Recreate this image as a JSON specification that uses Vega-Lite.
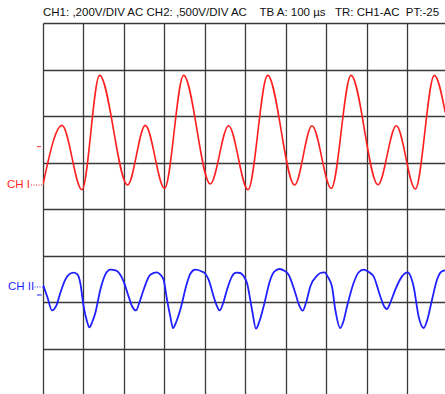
{
  "$schema": "https://vega.github.io/schema/vega-lite/v6.json",
  "width": 402,
  "height": 371,
  "autosize": {"type": "none"},
  "padding": {"left": 43, "top": 23, "right": 0, "bottom": 0},
  "background": "white",
  "title": {
    "text": "CH1: ,200V/DIV AC CH2: ,500V/DIV AC\u00a0\u00a0\u00a0 TB A: 100 µs\u00a0\u00a0 TR: CH1-AC\u00a0 PT:-25",
    "anchor": "start",
    "frame": "group",
    "orient": "top",
    "offset": 5,
    "font": "Liberation Sans",
    "fontSize": 11.5,
    "fontWeight": "normal",
    "color": "#111111"
  },
  "config": {
    "view": {"stroke": null},
    "axis": {
      "grid": true,
      "labels": false,
      "ticks": false,
      "domain": false,
      "title": null,
      "gridColor": "#3a3a3a",
      "gridWidth": 1.3,
      "gridOpacity": 1
    }
  },
  "datasets": {
    "ch1": [
      {"t": 0, "v": 0.527},
      {"t": 47.0, "v": 1.798},
      {"t": 96.4, "v": 0.415},
      {"t": 139.9, "v": 2.873},
      {"t": 209.1, "v": 0.516},
      {"t": 252.9, "v": 1.798},
      {"t": 300.6, "v": 0.443},
      {"t": 347.6, "v": 2.873},
      {"t": 413.6, "v": 0.538},
      {"t": 458.8, "v": 1.791},
      {"t": 506.8, "v": 0.415},
      {"t": 555.3, "v": 2.873},
      {"t": 622.0, "v": 0.516},
      {"t": 665.0, "v": 1.791},
      {"t": 712.7, "v": 0.443},
      {"t": 761.4, "v": 2.873},
      {"t": 828.2, "v": 0.523},
      {"t": 873.4, "v": 1.791},
      {"t": 920.4, "v": 0.430},
      {"t": 967.4, "v": 2.873},
      {"t": 994.6, "v": 2.071}
    ],
    "ch2": [
      {"t": 0, "v": -1.628},
      {"t": 10.6, "v": -1.886},
      {"t": 22.2, "v": -2.181},
      {"t": 32.9, "v": -2.080},
      {"t": 42.8, "v": -1.806},
      {"t": 55.1, "v": -1.520},
      {"t": 65.0, "v": -1.402},
      {"t": 75.6, "v": -1.370},
      {"t": 84.8, "v": -1.402},
      {"t": 92.2, "v": -1.591},
      {"t": 100.4, "v": -2.095},
      {"t": 108.8, "v": -2.417},
      {"t": 114.5, "v": -2.546},
      {"t": 121.9, "v": -2.424},
      {"t": 129.3, "v": -2.237},
      {"t": 141.7, "v": -1.735},
      {"t": 154.0, "v": -1.413},
      {"t": 166.4, "v": -1.305},
      {"t": 181.2, "v": -1.327},
      {"t": 191.1, "v": -1.413},
      {"t": 199.3, "v": -1.557},
      {"t": 211.6, "v": -1.880},
      {"t": 220.8, "v": -2.101},
      {"t": 229.9, "v": -2.181},
      {"t": 238.1, "v": -2.015},
      {"t": 248.7, "v": -1.735},
      {"t": 265.3, "v": -1.413},
      {"t": 281.8, "v": -1.363},
      {"t": 290.0, "v": -1.413},
      {"t": 298.1, "v": -1.520},
      {"t": 306.6, "v": -1.951},
      {"t": 314.7, "v": -2.310},
      {"t": 321.4, "v": -2.559},
      {"t": 329.5, "v": -2.424},
      {"t": 339.4, "v": -2.166},
      {"t": 356.0, "v": -1.591},
      {"t": 364.2, "v": -1.391},
      {"t": 376.5, "v": -1.305},
      {"t": 391.3, "v": -1.338},
      {"t": 401.2, "v": -1.391},
      {"t": 409.4, "v": -1.520},
      {"t": 421.8, "v": -1.880},
      {"t": 429.7, "v": -2.080},
      {"t": 436.6, "v": -2.181},
      {"t": 445.7, "v": -2.015},
      {"t": 454.9, "v": -1.735},
      {"t": 467.2, "v": -1.449},
      {"t": 477.9, "v": -1.370},
      {"t": 487.8, "v": -1.376},
      {"t": 495.2, "v": -1.434},
      {"t": 504.3, "v": -1.591},
      {"t": 516.7, "v": -2.166},
      {"t": 526.6, "v": -2.574},
      {"t": 534.7, "v": -2.424},
      {"t": 545.4, "v": -2.095},
      {"t": 561.9, "v": -1.520},
      {"t": 571.8, "v": -1.348},
      {"t": 584.9, "v": -1.290},
      {"t": 596.5, "v": -1.327},
      {"t": 607.2, "v": -1.413},
      {"t": 623.7, "v": -1.806},
      {"t": 633.6, "v": -2.080},
      {"t": 641.8, "v": -2.187},
      {"t": 650.9, "v": -1.994},
      {"t": 660.8, "v": -1.665},
      {"t": 677.4, "v": -1.434},
      {"t": 685.5, "v": -1.376},
      {"t": 695.4, "v": -1.363},
      {"t": 705.3, "v": -1.477},
      {"t": 714.5, "v": -1.671},
      {"t": 722.6, "v": -2.166},
      {"t": 735.0, "v": -2.559},
      {"t": 742.4, "v": -2.424},
      {"t": 751.6, "v": -2.095},
      {"t": 767.9, "v": -1.591},
      {"t": 779.5, "v": -1.370},
      {"t": 792.6, "v": -1.305},
      {"t": 804.2, "v": -1.348},
      {"t": 817.3, "v": -1.449},
      {"t": 833.9, "v": -1.880},
      {"t": 842.5, "v": -2.080},
      {"t": 850.4, "v": -2.151},
      {"t": 858.6, "v": -2.015},
      {"t": 870.9, "v": -1.735},
      {"t": 887.5, "v": -1.449},
      {"t": 901.4, "v": -1.363},
      {"t": 909.3, "v": -1.456},
      {"t": 916.2, "v": -1.665},
      {"t": 928.6, "v": -2.310},
      {"t": 940.9, "v": -2.559},
      {"t": 950.1, "v": -2.381},
      {"t": 961.7, "v": -1.951},
      {"t": 974.0, "v": -1.520},
      {"t": 984.7, "v": -1.348},
      {"t": 994.6, "v": -1.320}
    ]
  },
  "layer": [
    {
      "data": {"name": "ch1"},
      "mark": {"type": "line", "clip": true, "interpolate": "monotone", "color": "#ff1f1f", "strokeWidth": 1.6},
      "encoding": {
        "x": {
          "field": "t", "type": "quantitative",
          "scale": {"domain": [0, 993.8], "nice": false, "zero": false},
          "axis": {"values": [0, 100, 200, 300, 400, 500, 600, 700, 800, 900]}
        },
        "y": {
          "field": "v", "type": "quantitative",
          "scale": {"domain": [-3.978, 4], "nice": false, "zero": false},
          "axis": {"values": [-3, -2, -1, 0, 1, 2, 3, 4]}
        }
      }
    },
    {
      "data": {"name": "ch2"},
      "mark": {"type": "line", "clip": true, "interpolate": "monotone", "color": "#1f1fff", "strokeWidth": 1.8},
      "encoding": {
        "x": {"field": "t", "type": "quantitative"},
        "y": {"field": "v", "type": "quantitative"}
      }
    },
    {
      "data": {"values": [{}]},
      "mark": {"type": "text", "text": "CH I", "align": "right", "baseline": "middle", "color": "#ff1f1f", "font": "Liberation Sans", "fontSize": 11.5},
      "encoding": {"x": {"datum": -32}, "y": {"datum": 0.516}}
    },
    {
      "data": {"values": [{}]},
      "mark": {"type": "rule", "color": "#ff1f1f", "strokeWidth": 1, "strokeDash": [1, 1.5]},
      "encoding": {"x": {"datum": -29.7}, "x2": {"datum": 0}, "y": {"datum": 0.516}}
    },
    {
      "data": {"values": [{}]},
      "mark": {"type": "rule", "color": "#ff1f1f", "strokeWidth": 1},
      "encoding": {"x": {"datum": -14.8}, "x2": {"datum": -4.9}, "y": {"datum": 1.34}}
    },
    {
      "data": {"values": [{}]},
      "mark": {"type": "text", "text": "CH II", "align": "right", "baseline": "middle", "color": "#1f1fff", "font": "Liberation Sans", "fontSize": 11.5},
      "encoding": {"x": {"datum": -22}, "y": {"datum": -1.677}}
    },
    {
      "data": {"values": [{}]},
      "mark": {"type": "rule", "color": "#1f1fff", "strokeWidth": 1, "strokeDash": [1, 1.5]},
      "encoding": {"x": {"datum": -21}, "x2": {"datum": 0}, "y": {"datum": -1.677}}
    },
    {
      "data": {"values": [{}]},
      "mark": {"type": "rule", "color": "#1f1fff", "strokeWidth": 1},
      "encoding": {"x": {"datum": -14.8}, "x2": {"datum": -3.2}, "y": {"datum": -1.849}}
    }
  ]
}
